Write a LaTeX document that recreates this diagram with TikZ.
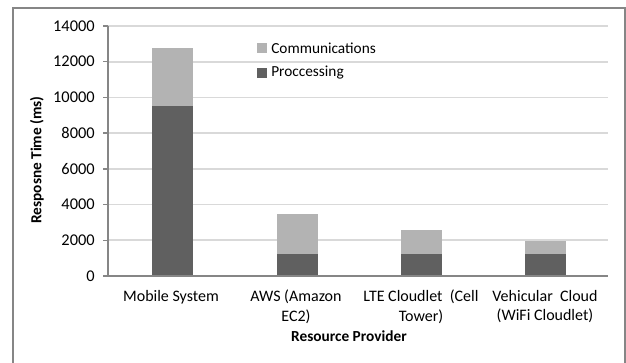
\documentclass[tikz,border=0pt]{standalone}
\usepackage{fontspec}
\setmainfont{Carlito}
\definecolor{comm}{HTML}{B3B3B3}
\definecolor{proc}{HTML}{606060}
\definecolor{grid}{HTML}{D9D9D9}
\definecolor{axis}{HTML}{868686}
\tikzset{
  frameline/.style={draw=axis, line width=1.1pt},
  gridline/.style={draw=grid, line width=1.2pt},
  axisline/.style={draw=axis, line width=1pt},
  commbar/.style={fill=comm},
  procbar/.style={fill=proc},
  ticklabel/.style={anchor=east, inner sep=0pt, font=\fontsize{12.3}{13}\selectfont},
  catlabel/.style={align=center, inner sep=0pt, font=\fontsize{12}{14.3}\selectfont},
  axistitle/.style={inner sep=0pt, font=\bfseries\fontsize{11.5}{13}\selectfont},
  legendtext/.style={anchor=west, inner sep=0pt, font=\fontsize{11.5}{13}\selectfont}
}
\begin{document}
\begin{tikzpicture}[x=0.75pt,y=-0.75pt]
\useasboundingbox (0,0) rectangle (626,363);
\fill[white] (0,0) rectangle (626,363);
\draw[frameline] (13,363) -- (13,8) -- (625,8) -- (625,363);
% plot area: y(v) = 276 - v/56
\foreach \v in {2000,4000,...,14000}{
  \pgfmathsetmacro{\yy}{276-\v/56}
  \draw[gridline] (108,\yy) -- (608,\yy);
}
% bars
\foreach \c/\p/\t in {172.5/9500/12750, 297.5/1250/3450, 421.5/1250/2550, 545.5/1250/1950}{
  \pgfmathsetmacro{\yp}{276-\p/56}
  \pgfmathsetmacro{\yt}{276-\t/56}
  \fill[procbar] (\c-20.5,276) rectangle (\c+20.5,\yp);
  \fill[commbar] (\c-20.5,\yp) rectangle (\c+20.5,\yt);
}
% axes
\draw[axisline] (108,26) -- (108,276);
\draw[axisline] (103,276) -- (608,276);
\foreach \v in {0,2000,...,14000}{
  \pgfmathsetmacro{\yy}{276-\v/56}
  \draw[axisline] (103,\yy) -- (108,\yy);
  \node[ticklabel] at (95,\yy) {\v};
}
% category labels
\node[catlabel, anchor=north] (c1) at (171,290) {Mobile System};
\node[catlabel, anchor=north] (c2) at (296,290) {AWS (Amazon\\EC2)};
\node[catlabel, anchor=north] (c3) at (421,290) {LTE Cloudlet~ (Cell\\Tower)};
\node[catlabel, anchor=north] (c4) at (545,290) {Vehicular~ Cloud\\(WiFi Cloudlet)};
% titles
\node[axistitle] (xt) at (349,336) {Resource Provider};
\node[axistitle, rotate=90] (yt) at (37,160) {Resposne Time (ms)};
% legend
\fill[commbar] (257,43) rectangle (267,53);
\node[legendtext] (l1) at (271,48) {Communications};
\fill[procbar] (257,68) rectangle (267,78);
\node[legendtext] (l2) at (271,73) {Proccessing};
\end{tikzpicture}
\end{document}
